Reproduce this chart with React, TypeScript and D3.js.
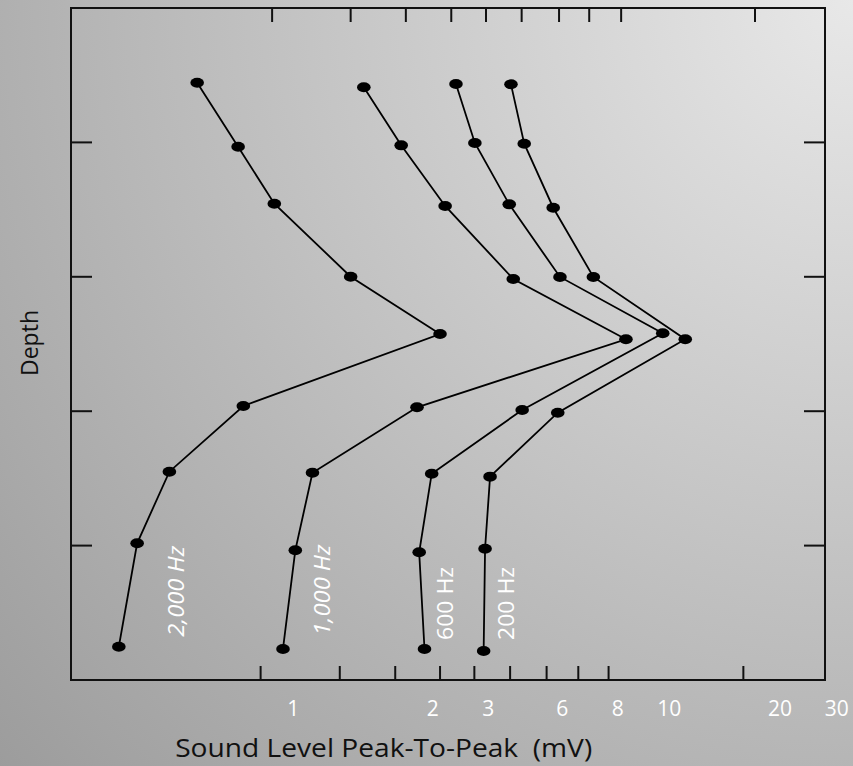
import React from 'react';
import * as d3 from 'd3';

// ---------- data ----------
// axis label values (the log axis is drawn through these anchors)
const axisValues = [1, 2, 3, 6, 8, 10, 20, 30];
const tickLabels = ['1', '2', '3', '6', '8', '10', '20', '30'];
// minor tick marks along the bottom and top edges (values in mV)
const bottomTickValues = [0.85, 1.26, 1.66, 2.11, 2.71, 3.68, 5.18, 6.52, 7.63, 15.9];
const topTickValues = [0.9, 1.33, 1.75, 2.29, 2.95, 4.1, 5.82, 6.9, 8.12, 17.1];
const depthTicks = [1, 2, 3, 4];

const seriesNames = ['2,000 Hz', '1,000 Hz', '600 Hz', '200 Hz'];
const level2000 = [0.62, 0.76, 0.91, 1.33, 2.11, 0.78, 0.54, 0.46, 0.42];
const depth2000 = [0.556, 1.032, 1.456, 1.999, 2.426, 2.961, 3.45, 3.983, 4.752];
const level1000 = [1.42, 1.71, 2.19, 3.79, 8.29, 1.85, 1.1, 1.01, 0.95];
const depth1000 = [0.59, 1.022, 1.473, 2.016, 2.465, 2.971, 3.458, 4.035, 4.769];
const level600 = [2.37, 2.72, 3.65, 5.87, 9.72, 4.12, 1.99, 1.87, 1.92];
const depth600 = [0.565, 1.004, 1.461, 2.001, 2.42, 2.991, 3.465, 4.05, 4.769];
const level200 = [3.71, 4.2, 5.51, 7.05, 11.05, 5.75, 3.05, 2.93, 2.9];
const depth200 = [0.568, 1.01, 1.486, 2.001, 2.465, 3.011, 3.487, 4.023, 4.784];

// label anchor (value, depth) for each series name
const labelLevels = [0.58, 1.2, 2.32, 3.82];
const labelDepths = [4.34, 4.33, 4.43, 4.43];
const labelItalic = [true, true, false, false];

// ---------- layout ----------
const W = 853;
const H = 766;
const frame = { left: 71, right: 825, top: 8, bottom: 680 };
const labelPixel = [293.3, 432.7, 488.3, 562.3, 617.7, 669.3, 780, 836.7];
const labelLengths = [91, 91, 73, 73];
const FONT = "'Open Sans', 'DejaVu Sans', sans-serif";

export default function App() {
  const x = d3.scaleLog().domain(axisValues).range(labelPixel);
  const y = d3.scaleLinear().domain([0, 5]).range([frame.top, frame.bottom]);

  const series = [
    { levels: level2000, depths: depth2000 },
    { levels: level1000, depths: depth1000 },
    { levels: level600, depths: depth600 },
    { levels: level200, depths: depth200 },
  ];

  const line = d3
    .line<[number, number]>()
    .x((d) => x(d[0]))
    .y((d) => y(d[1]));

  const tickLen = 14;
  const yTickLen = 21;

  return (
    <svg
      width={W}
      height={H}
      style={{ position: 'absolute', left: 0, top: 0, display: 'block' }}
      xmlns="http://www.w3.org/2000/svg"
    >
      <defs>
        <radialGradient id="bg" gradientUnits="userSpaceOnUse" cx={853} cy={0} r={1150}>
          <stop offset="0" stopColor="#e8e8e8" />
          <stop offset="1" stopColor="#9c9c9c" />
        </radialGradient>
      </defs>
      <rect x={0} y={0} width={W} height={H} fill="url(#bg)" />

      {/* frame */}
      <rect
        x={frame.left}
        y={frame.top}
        width={frame.right - frame.left}
        height={frame.bottom - frame.top}
        fill="none"
        stroke="#111"
        strokeWidth={2}
      />

      {/* bottom ticks */}
      {bottomTickValues.map((v, i) => (
        <line
          key={'bt' + i}
          x1={x(v)}
          x2={x(v)}
          y1={frame.bottom}
          y2={frame.bottom - tickLen}
          stroke="#111"
          strokeWidth={2}
        />
      ))}
      {/* top ticks */}
      {topTickValues.map((v, i) => (
        <line
          key={'tt' + i}
          x1={x(v)}
          x2={x(v)}
          y1={frame.top}
          y2={frame.top + tickLen}
          stroke="#111"
          strokeWidth={2}
        />
      ))}
      {/* left and right ticks */}
      {depthTicks.map((d) => (
        <g key={'yt' + d}>
          <line x1={frame.left} x2={frame.left + yTickLen} y1={y(d)} y2={y(d)} stroke="#111" strokeWidth={2} />
          <line x1={frame.right} x2={frame.right - yTickLen} y1={y(d)} y2={y(d)} stroke="#111" strokeWidth={2} />
        </g>
      ))}

      {/* tick labels */}
      {axisValues.map((v, i) => (
        <text
          key={'tl' + i}
          x={x(v)}
          y={715.5}
          textAnchor="middle"
          fill="#ffffff"
          fontFamily={FONT}
          fontSize={21}
        >
          {tickLabels[i]}
        </text>
      ))}

      {/* series */}
      {series.map((s, si) => {
        const pts: [number, number][] = s.levels.map((v, i) => [v, s.depths[i]]);
        return (
          <g key={'s' + si}>
            <path d={line(pts) || ''} fill="none" stroke="#000" strokeWidth={1.8} />
            {pts.map((p, i) => (
              <ellipse key={i} cx={x(p[0])} cy={y(p[1])} rx={6.8} ry={5} fill="#000" />
            ))}
          </g>
        );
      })}

      {/* series labels */}
      {seriesNames.map((name, i) => (
        <text
          key={'lab' + i}
          transform={`translate(${x(labelLevels[i])},${y(labelDepths[i])}) rotate(-90)`}
          textAnchor="middle"
          fill="#ffffff"
          fontFamily={FONT}
          fontSize={22}
          fontStyle={labelItalic[i] ? 'italic' : 'normal'}
          textLength={labelLengths[i]}
          lengthAdjust="spacingAndGlyphs"
        >
          {name}
        </text>
      ))}

      {/* axis titles */}
      <text
        x={383.7}
        y={757}
        textAnchor="middle"
        fill="#111"
        fontFamily={FONT}
        fontSize={26}
        textLength={417}
        lengthAdjust="spacingAndGlyphs"
        style={{ whiteSpace: 'pre' }}
      >
        {'Sound Level Peak-To-Peak  (mV)'}
      </text>
      <text
        transform="translate(38,343) rotate(-90)"
        textAnchor="middle"
        fill="#111"
        fontFamily={FONT}
        fontSize={23}
      >
        Depth
      </text>
    </svg>
  );
}
